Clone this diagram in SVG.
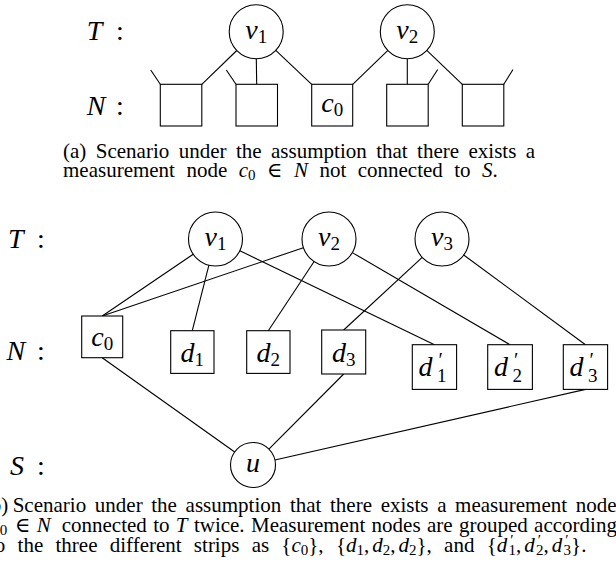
<svg xmlns="http://www.w3.org/2000/svg" width="616" height="576" viewBox="0 0 616 576">
<style>
.ln{stroke:#000;stroke-width:1.1;fill:none}
.nd{fill:#fff;stroke:#000;stroke-width:1.1}
.lb{font-family:"Liberation Serif","DejaVu Serif",serif;font-size:28px;font-style:italic;fill:#000}
.up{font-style:normal}
.sb{font-size:19px;font-style:normal}
.pr{font-size:20px;font-style:normal}
.cap{font-family:"Liberation Serif","DejaVu Serif",serif;font-size:21px;fill:#000}
.mi{font-style:italic}
.cs{font-size:15px;font-style:normal}
</style>
<rect width="616" height="576" fill="#fff"/>

<!-- (a) -->
<g id="a-labels">
<text class="lb" x="86.7" y="39.5">T</text><text class="lb up" x="116" y="39.5">:</text>
<text class="lb" x="86.7" y="115">N</text><text class="lb up" x="116" y="115">:</text>
</g>
<g id="a-connectors">
<line class="ln" x1="236.8" y1="50.5" x2="201.8" y2="84.3"/>
<line class="ln" x1="256.3" y1="58.7" x2="256.7" y2="84.3"/>
<line class="ln" x1="275.8" y1="50.3" x2="311.7" y2="84.3"/>
<line class="ln" x1="387.9" y1="50.4" x2="352.7" y2="84.3"/>
<line class="ln" x1="407.3" y1="58.7" x2="407.3" y2="84.3"/>
<line class="ln" x1="426.8" y1="50.4" x2="462.3" y2="84.3"/>
<line class="ln" x1="160.3" y1="84.3" x2="150.7" y2="70"/>
<line class="ln" x1="236" y1="84.3" x2="226.3" y2="70"/>
<line class="ln" x1="428.2" y1="84.3" x2="437.7" y2="69.5"/>
<line class="ln" x1="503.8" y1="84.3" x2="513" y2="69.5"/>
</g>
<g id="a-v1"><circle class="nd" cx="256.2" cy="31.7" r="27"/><text class="lb" x="256.2" y="39" text-anchor="middle">v<tspan class="sb" dy="4">1</tspan></text></g>
<g id="a-v2"><circle class="nd" cx="407.3" cy="31.7" r="27"/><text class="lb" x="407.3" y="39" text-anchor="middle">v<tspan class="sb" dy="4">2</tspan></text></g>
<g id="a-n1"><rect class="nd" x="160.3" y="84.3" width="41.5" height="41.7"/></g>
<g id="a-n2"><rect class="nd" x="236" y="84.3" width="41.5" height="41.7"/></g>
<g id="a-c0"><rect class="nd" x="311.7" y="84.3" width="41" height="41.7"/><text class="lb" x="332.2" y="112" text-anchor="middle">c<tspan class="sb" dy="4">0</tspan></text></g>
<g id="a-n4"><rect class="nd" x="386.7" y="84.3" width="41.5" height="41.7"/></g>
<g id="a-n5"><rect class="nd" x="462.3" y="84.3" width="41.5" height="41.7"/></g>

<g id="a-caption">
<text class="cap" x="63" y="158" word-spacing="4.2">(a) Scenario under the assumption that there exists a</text>
<text class="cap" x="63" y="177" word-spacing="6.2">measurement node <tspan class="mi">c</tspan><tspan class="cs" dy="3">0</tspan><tspan dy="-3"> ∈ </tspan><tspan class="mi">N</tspan> not connected to <tspan class="mi">S</tspan>.</text>
</g>

<!-- (b) -->
<g id="b-labels">
<text class="lb" x="8" y="248.3">T</text><text class="lb up" x="37" y="248.3">:</text>
<text class="lb" x="6.5" y="360">N</text><text class="lb up" x="37" y="360">:</text>
<text class="lb" x="10" y="475">S</text><text class="lb up" x="37" y="475">:</text>
</g>
<g id="b-connectors">
<line class="ln" x1="193.2" y1="254.2" x2="102.2" y2="316"/>
<line class="ln" x1="208.9" y1="265.2" x2="192.3" y2="330.7"/>
<line class="ln" x1="239.8" y1="250.7" x2="434.5" y2="344.7"/>
<line class="ln" x1="303.4" y1="247.7" x2="102.2" y2="316"/>
<line class="ln" x1="314.1" y1="261.5" x2="268.3" y2="330.7"/>
<line class="ln" x1="352.3" y1="252.6" x2="510" y2="344.7"/>
<line class="ln" x1="422.2" y1="257.3" x2="343.7" y2="330"/>
<line class="ln" x1="463.7" y1="255" x2="585.5" y2="344.7"/>
<line class="ln" x1="102.2" y1="357.7" x2="234.7" y2="452"/>
<line class="ln" x1="343.7" y1="374" x2="268.9" y2="449.1"/>
<line class="ln" x1="585.5" y1="389.4" x2="274.9" y2="460"/>
</g>
<g id="b-v1"><circle class="nd" cx="215.5" cy="239" r="27"/><text class="lb" x="215.5" y="246" text-anchor="middle">v<tspan class="sb" dy="4">1</tspan></text></g>
<g id="b-v2"><circle class="nd" cx="329" cy="239" r="27"/><text class="lb" x="329" y="246" text-anchor="middle">v<tspan class="sb" dy="4">2</tspan></text></g>
<g id="b-v3"><circle class="nd" cx="442" cy="239" r="27"/><text class="lb" x="442" y="246" text-anchor="middle">v<tspan class="sb" dy="4">3</tspan></text></g>
<g id="b-c0"><rect class="nd" x="81.7" y="316" width="41" height="41.7"/><text class="lb" x="102.2" y="346" text-anchor="middle">c<tspan class="sb" dy="4">0</tspan></text></g>
<g id="b-d1"><rect class="nd" x="170.7" y="330.7" width="43.3" height="42.7"/><text class="lb" x="192.3" y="361.5" text-anchor="middle">d<tspan class="sb" dy="4">1</tspan></text></g>
<g id="b-d2"><rect class="nd" x="246.7" y="330.7" width="43.3" height="42.7"/><text class="lb" x="268.3" y="361.5" text-anchor="middle">d<tspan class="sb" dy="4">2</tspan></text></g>
<g id="b-d3"><rect class="nd" x="321.7" y="330" width="44" height="44"/><text class="lb" x="343.7" y="361.5" text-anchor="middle">d<tspan class="sb" dy="4">3</tspan></text></g>
<g id="b-d1p"><rect class="nd" x="412.3" y="344.7" width="44.3" height="44.7"/><text class="lb" x="432.5" y="375.5" text-anchor="middle">d<tspan class="pr" dx="6" dy="-9">′</tspan><tspan class="sb" dx="-6" dy="15">1</tspan></text></g>
<g id="b-d2p"><rect class="nd" x="487.7" y="344.7" width="44.7" height="44.7"/><text class="lb" x="508" y="375.5" text-anchor="middle">d<tspan class="pr" dx="6" dy="-9">′</tspan><tspan class="sb" dx="-6" dy="15">2</tspan></text></g>
<g id="b-d3p"><rect class="nd" x="563.3" y="344.7" width="44.3" height="44.7"/><text class="lb" x="583.5" y="375.5" text-anchor="middle">d<tspan class="pr" dx="6" dy="-9">′</tspan><tspan class="sb" dx="-6" dy="15">3</tspan></text></g>
<g id="b-u"><circle class="nd" cx="253" cy="465" r="22.5"/><text class="lb" x="253" y="472" text-anchor="middle">u</text></g>

<g id="b-caption">
<text class="cap" y="512"><tspan x="8.3" text-anchor="end">(b)</tspan><tspan x="12.7" word-spacing="3.4">Scenario under the assumption that there exists a measurement node</tspan></text>
<text class="cap" y="532"><tspan x="-9.5" class="mi">c</tspan><tspan class="cs" dy="3">0</tspan><tspan x="15" dy="-3">∈</tspan><tspan x="36.7" class="mi">N</tspan><tspan x="61.7" word-spacing="1.1">connected to <tspan class="mi">T</tspan> twice. Measurement nodes are grouped according</tspan></text>
<text class="cap" x="-11" y="552" word-spacing="7">to the three different strips as {<tspan class="mi">c</tspan><tspan class="cs" dy="3">0</tspan><tspan dy="-3">},</tspan> {<tspan class="mi">d</tspan><tspan class="cs" dy="3">1</tspan><tspan dy="-3">,</tspan><tspan class="mi" dx="3">d</tspan><tspan class="cs" dy="3">2</tspan><tspan dy="-3">,</tspan><tspan class="mi" dx="3">d</tspan><tspan class="cs" dy="3">2</tspan><tspan dy="-3">},</tspan> and {<tspan class="mi">d</tspan><tspan class="cs" dx="3" dy="-7">′</tspan><tspan class="cs" dx="-5" dy="10">1</tspan><tspan dy="-3">,</tspan><tspan class="mi" dx="3">d</tspan><tspan class="cs" dx="3" dy="-7">′</tspan><tspan class="cs" dx="-5" dy="10">2</tspan><tspan dy="-3">,</tspan><tspan class="mi" dx="3">d</tspan><tspan class="cs" dx="3" dy="-7">′</tspan><tspan class="cs" dx="-5" dy="10">3</tspan><tspan dy="-3">}.</tspan></text>
</g>
</svg>
